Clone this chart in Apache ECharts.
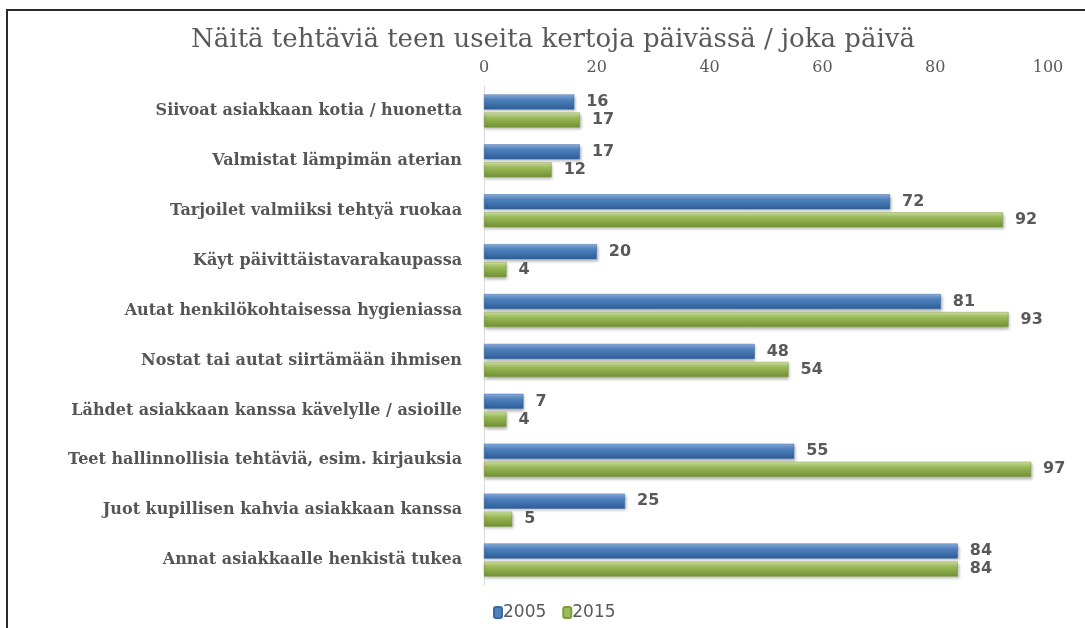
<!DOCTYPE html>
<html>
<head>
<meta charset="utf-8">
<script src="https://cdn.jsdelivr.net/npm/echarts@6/dist/echarts.min.js"></script>
<style>
  html, body { margin: 0; padding: 0; background: #fff; }
  #frame {
    position: absolute; left: 6px; top: 9px; width: 1100px; height: 640px;
    border-left: 2px solid #2b2b2b; border-top: 2px solid #2b2b2b;
  }
  #chart { position: absolute; left: 0; top: 0; width: 1085px; height: 628px; }
</style>
</head>
<body>
<div id="frame"></div>
<div id="chart"></div>
<script>
const categories = [
  "Siivoat asiakkaan kotia / huonetta",
  "Valmistat lämpimän aterian",
  "Tarjoilet valmiiksi tehtyä ruokaa",
  "Käyt päivittäistavarakaupassa",
  "Autat henkilökohtaisessa hygieniassa",
  "Nostat tai autat siirtämään ihmisen",
  "Lähdet asiakkaan kanssa kävelylle / asioille",
  "Teet hallinnollisia tehtäviä, esim. kirjauksia",
  "Juot kupillisen kahvia asiakkaan kanssa",
  "Annat asiakkaalle henkistä tukea"
];
const values2005 = [16, 17, 72, 20, 81, 48, 7, 55, 25, 84];
const values2015 = [17, 12, 92, 4, 93, 54, 4, 97, 5, 84];

const blueFill = new echarts.graphic.LinearGradient(0, 0, 0, 1, [
  { offset: 0, color: "#8fb4e3" },
  { offset: 0.35, color: "#4f81bd" },
  { offset: 1, color: "#2c5d98" }
]);
const greenFill = new echarts.graphic.LinearGradient(0, 0, 0, 1, [
  { offset: 0, color: "#d7e8a8" },
  { offset: 0.35, color: "#9bbb59" },
  { offset: 1, color: "#6f8f32" }
]);

const labelStyle = {
  show: true,
  position: "right",
  distance: 12,
  fontFamily: "DejaVu Sans",
  fontWeight: "bold",
  fontSize: 16,
  color: "#595959"
};

let chart = echarts.init(document.getElementById("chart"), null, { renderer: "canvas" });
chart.setOption({
  animation: false,
  title: {
    text: "Näitä tehtäviä teen useita kertoja päivässä / joka päivä",
    left: 548,
    textAlign: "center",
    top: 22,
    textStyle: { fontFamily: "DejaVu Serif", fontSize: 26, fontWeight: "normal", color: "#595959" }
  },
  legend: {
    bottom: 2,
    left: 488,
    itemWidth: 8,
    itemHeight: 11,
    itemGap: 16,
    textStyle: { fontFamily: "DejaVu Sans", fontSize: 17, color: "#595959", padding: [0, 0, 0, -4] },
    data: [
      { name: "2005", itemStyle: { color: "#4f81bd" } },
      { name: "2015", itemStyle: { color: "#9bbb59" } }
    ]
  },
  grid: { left: 484, right: 37, top: 86, bottom: 43 },
  xAxis: {
    type: "value",
    position: "top",
    min: 0,
    max: 100,
    interval: 20,
    axisLine: { show: false },
    axisTick: { show: false },
    splitLine: { show: false },
    axisLabel: { fontFamily: "DejaVu Serif", fontSize: 16, color: "#595959", margin: 10 }
  },
  yAxis: {
    type: "category",
    inverse: true,
    data: categories,
    axisLine: { show: true, lineStyle: { color: "#d9d9d9" } },
    axisTick: { show: false },
    axisLabel: { fontFamily: "DejaVu Serif", fontSize: 16, fontWeight: "bold", color: "#555555", margin: 22 }
  },
  series: [
    {
      name: "2005",
      type: "bar",
      data: values2005,
      barWidth: 15,
      barGap: "20%",
      itemStyle: { color: blueFill, borderColor: "#3a6aa3", borderWidth: 0.5,
        shadowColor: "rgba(0,0,0,0.3)", shadowBlur: 3, shadowOffsetX: 1, shadowOffsetY: 2 },
      label: labelStyle
    },
    {
      name: "2015",
      type: "bar",
      data: values2015,
      barWidth: 15,
      barGap: "20%",
      itemStyle: { color: greenFill, borderColor: "#7f9c44", borderWidth: 0.5,
        shadowColor: "rgba(0,0,0,0.3)", shadowBlur: 3, shadowOffsetX: 1, shadowOffsetY: 2 },
      label: labelStyle
    }
  ]
});
</script>
</body>
</html>
